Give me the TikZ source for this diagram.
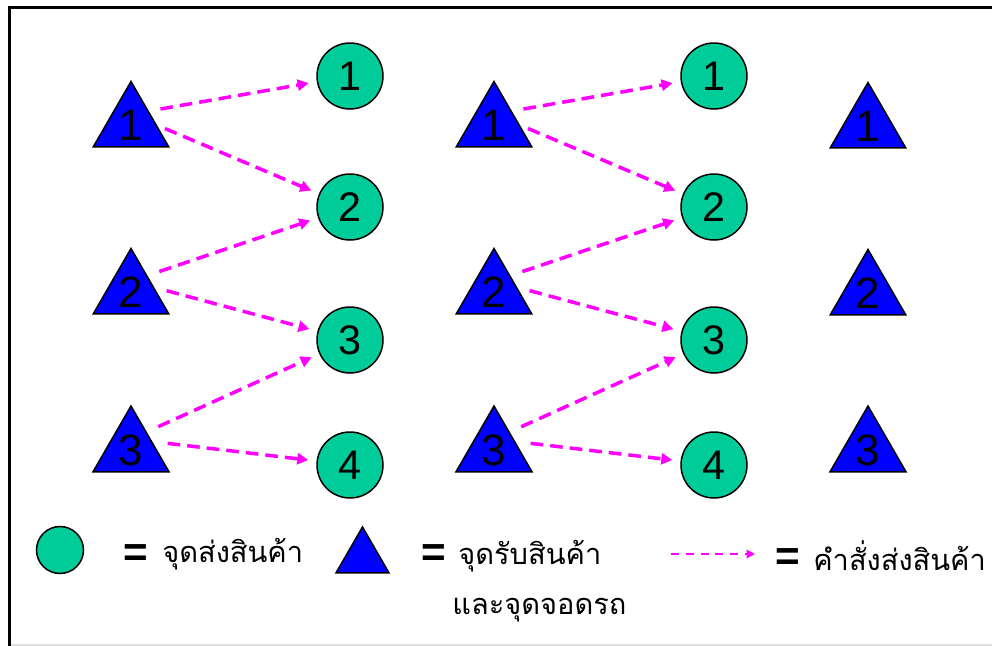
\documentclass[tikz,border=0pt]{standalone}
\usepackage{fontspec}
\setmainfont{Liberation Sans}
\newfontfamily\thaifont[Script=Thai]{Loma}
\usetikzlibrary{shapes.geometric,arrows.meta,calc}
\newlength\pxu \setlength\pxu{0.02cm}
\definecolor{sgreen}{RGB}{0,204,153}
\definecolor{mag}{RGB}{255,0,255}
\begin{document}
\begin{tikzpicture}[x=0.02cm,y=-0.02cm,
  circ/.style={circle, draw=black, line width=1.5\pxu, fill=sgreen, minimum size=66\pxu, inner sep=0pt, outer sep=0pt, font=\fontsize{23.5}{23.5}\selectfont},
  tri/.style={regular polygon, regular polygon sides=3, draw=black, line width=1.5\pxu, fill=blue, minimum size=87\pxu, inner sep=0pt, outer sep=0pt, font=\fontsize{25}{25}\selectfont},
  order/.style={draw=mag, line width=2pt, dash pattern=on 7.2pt off 4pt, -{Triangle[length=6.3pt,width=6.3pt]}, shorten >=5.1pt},
  arrup/.style={order, shorten <=17pt},
  arrdn/.style={order, shorten <=21pt},
  eqs/.style={font=\bfseries\fontsize{24}{24}\selectfont, inner sep=0pt},
  thai/.style={font=\thaifont\fontsize{16.5}{16.5}\selectfont, inner sep=0pt, anchor=base west}
]
\useasboundingbox (0,0) rectangle (992,646);
% frame
\draw[gray!25, line width=2\pxu] (9,645) -- (992,645);
\draw[line width=3\pxu] (992,7) -- (9,7) -- (9,646);

% left group
\node[tri] (at1) at (131,125) {1};
\node[tri] (at2) at (131,292) {2};
\node[tri] (at3) at (131,450) {3};
\node[circ] (ac1) at (350,76) {1};
\node[circ] (ac2) at (350,207) {2};
\node[circ] (ac3) at (350,340) {3};
\node[circ] (ac4) at (350,465) {4};
% middle group
\node[tri] (bt1) at (494,125) {1};
\node[tri] (bt2) at (494,292) {2};
\node[tri] (bt3) at (494,450) {3};
\node[circ] (bc1) at (714,76) {1};
\node[circ] (bc2) at (714,207) {2};
\node[circ] (bc3) at (714,340) {3};
\node[circ] (bc4) at (714,465) {4};
% right group
\node[tri] (ct1) at (868,126) {1};
\node[tri] (ct2) at (868,293) {2};
\node[tri] (ct3) at (868,450) {3};

\foreach \g in {a,b}{
  \foreach \i in {1,2,3}{
    \coordinate (\g m\i) at ($(\g t\i.corner 1)!0.5!(\g t\i.side 2)$);
  }
  \draw[arrup] (\g m1) -- (\g c1);
  \draw[arrdn] (\g m1) -- (\g c2);
  \draw[arrup] (\g m2) -- (\g c2);
  \draw[arrdn] (\g m2) -- (\g c3);
  \draw[arrup] (\g m3) -- (\g c3);
  \draw[arrdn] (\g m3) -- (\g c4);
}

% legend
\node[circle, draw=black, line width=1.5\pxu, fill=sgreen, minimum size=47\pxu, inner sep=0pt] (lc) at (60,550) {};
\node[eqs] (e1) at (136,556) {=};
\node[thai] (t1) at (162,562) {จุดส่งสินค้า};
\node[regular polygon, regular polygon sides=3, draw=black, line width=1.5\pxu, fill=blue, minimum size=61\pxu, inner sep=0pt, outer sep=0pt] (lt) at (362.5,557.5) {};
\node[eqs] (e2) at (434,556) {=};
\node[thai] (t2) at (458,564) {จุดรับสินค้า};
\node[thai] (t3) at (452,614) {และจุดจอดรถ};
\coordinate (la1) at (671,554);
\coordinate (la2) at (755,554);
\draw[draw=mag, line width=1.5pt, dash pattern=on 4.6pt off 3.8pt, -{Triangle[length=4.8pt,width=4.8pt]}] (la1) -- (la2);
\node[eqs] (e3) at (788,560) {=};
\node[thai] (t4) at (813,570) {คำสั่งส่งสินค้า};
\end{tikzpicture}
\end{document}
